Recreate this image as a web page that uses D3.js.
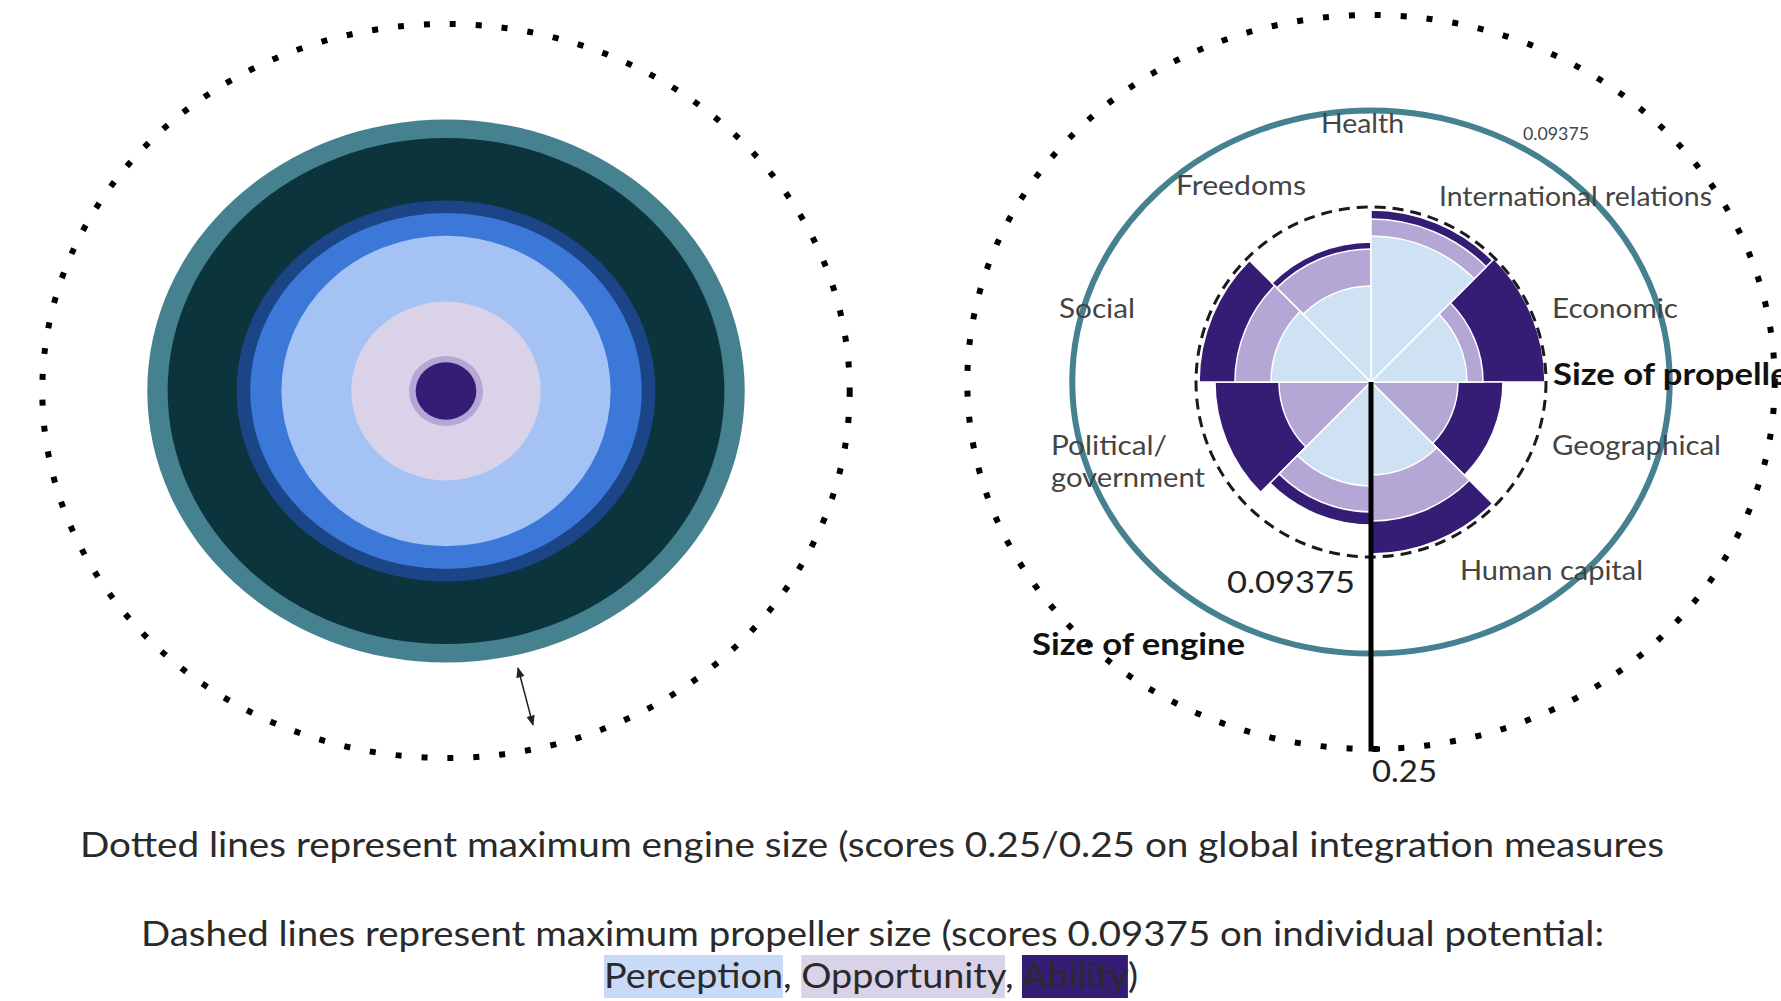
<!DOCTYPE html>
<html>
<head>
<meta charset="utf-8">
<script src="https://cdn.jsdelivr.net/npm/d3@7"></script>
<style>
  body { margin: 0; background: #fff; overflow: hidden; }
  svg { display: block; }
  text { font-family: Lato, "Open Sans", sans-serif; }
</style>
</head>
<body>
<svg id="chart"></svg>
<script>
// ---- data ----
const engineMax = 0.25;
const propMax = 0.09375;

// left "engine" picture: nested rings, outside in
const engineRingScores = [0.185, 0.1724, 0.1297, 0.1212, 0.1058, 0.0609, 0.0238, 0.0195];
const engineRingColors = ["#45818e", "#0c343d", "#1c4587", "#3c78d8", "#a4c2f4", "#d9d2e9", "#b4a7d6", "#351c75"];

// right "propeller": one 45 degree blade per category, clockwise from the top
const categories = ["Health", "International relations", "Economic", "Geographical",
  "Human capital", "Political/government", "Social", "Freedoms"];
const perception  = [0.0782, 0.0514, 0.0,    0.0498, 0.0557, 0.0,    0.0536, 0.0514];
const opportunity = [0.0873, 0.0600, 0.0466, 0.0745, 0.0696, 0.0493, 0.0729, 0.0713];
const ability     = [0.0921, 0.0932, 0.0707, 0.0921, 0.0766, 0.0836, 0.0921, 0.0750];
const engineScore = 0.185;

const line1 = "Dotted lines represent maximum engine size (scores 0.25/0.25 on global integration measures";
const line2 = "Dashed lines represent maximum propeller size (scores 0.09375 on individual potential:";
const legendNames = ["Perception", "Opportunity", "Ability"];

// ---- layout ----
const W = 1781, H = 1001;
const leftC = [446, 391], rightC = [1371, 382];
const stretch = 1.1; // the engine circles were squashed into ellipses on the slide

const svg = d3.select("#chart").attr("width", W).attr("height", H);

const defs = svg.append("defs");
defs.append("marker").attr("id", "head")
  .attr("viewBox", "0 0 10 10").attr("refX", 9).attr("refY", 5)
  .attr("markerWidth", 7).attr("markerHeight", 7).attr("orient", "auto-start-reverse")
  .append("path").attr("d", "M0,1 L10,5 L0,9 z").attr("fill", "#222");

const engineR = d3.scaleLinear().domain([0, engineMax]).range([0, 367]);
const propR = d3.scaleLinear().domain([0, propMax]).range([0, 175]);
const angle = d3.scaleBand().domain(categories).range([0, 2 * Math.PI]);

const drawDotted = (g) => g.append("ellipse")
  .attr("rx", engineR(engineMax) * stretch).attr("ry", engineR(engineMax))
  .attr("fill", "none").attr("stroke", "#000")
  .attr("stroke-width", 6).attr("stroke-dasharray", "6 20");

const addText = (g, x, y, str, size, width, opts = {}) => {
  const t = g.append("text")
    .attr("x", x).attr("y", y)
    .attr("font-size", size)
    .attr("font-weight", opts.bold ? 700 : 400)
    .attr("fill", opts.color || "#444")
    .text(str);
  if (width) t.attr("textLength", width).attr("lengthAdjust", "spacingAndGlyphs");
  return t;
};

// ---- left chart ----
const left = svg.append("g").attr("transform", `translate(${leftC[0]},${leftC[1]})`);
drawDotted(left);
left.selectAll(".ring").data(engineRingScores).join("ellipse")
  .attr("class", "ring")
  .attr("rx", d => engineR(d) * (d > 0.11 ? stretch : 1.06))
  .attr("ry", d => engineR(d))
  .attr("fill", (d, i) => engineRingColors[i]);

left.append("line")
  .attr("x1", 72).attr("y1", 277).attr("x2", 87).attr("y2", 334)
  .attr("stroke", "#222").attr("stroke-width", 1.5)
  .attr("marker-start", "url(#head)").attr("marker-end", "url(#head)");

// ---- right chart ----
const right = svg.append("g").attr("transform", `translate(${rightC[0]},${rightC[1]})`);
drawDotted(right);
right.append("ellipse")
  .attr("rx", engineR(engineScore) * stretch).attr("ry", engineR(engineScore))
  .attr("fill", "none").attr("stroke", "#45818e").attr("stroke-width", 6);

const arc = d3.arc().innerRadius(0);
const series = [
  { values: ability, color: "#351c75" },
  { values: opportunity, color: "#b4a7d6" },
  { values: perception, color: "#cfe2f3" }
];
series.forEach(s => {
  right.append("g").selectAll("path").data(categories).join("path")
    .attr("d", (c, i) => arc({
      outerRadius: propR(s.values[i]),
      startAngle: angle(c),
      endAngle: angle(c) + angle.bandwidth()
    }))
    .attr("fill", s.color)
    .attr("stroke", "#fff").attr("stroke-width", 1.5);
});

right.append("circle")
  .attr("r", propR(propMax))
  .attr("fill", "none").attr("stroke", "#1a1a1a")
  .attr("stroke-width", 3).attr("stroke-dasharray", "11 7");

// axis from the hub down to the maximum engine size
right.append("path")
  .attr("d", `M0,0 V${engineR(engineMax)} h9`)
  .attr("fill", "none").attr("stroke", "#000").attr("stroke-width", 5);

// category labels (offsets from the hub, as placed on the slide)
const labelPos = [[-50, -249, 83], [68, -176, 273], [181, -64, 126], [181, 73, 169],
  [89, 198, 183], [-320, 73, 116], [-312, -64, 76], [-195, -187, 130]];
categories.forEach((c, i) => {
  const [dx, dy, w] = labelPos[i];
  if (c.includes("/")) {
    const parts = c.split("/");
    addText(right, dx, dy, parts[0] + "/", 26, w);
    addText(right, dx, dy + 32, parts[1], 26, 154);
  } else {
    addText(right, dx, dy, c, 26, w);
  }
});

addText(right, 152, -242, String(propMax), 17, 66, { color: "#444" });
addText(right, -144, 211, String(propMax), 30, 128, { color: "#222" });
addText(right, 1, 400, String(engineMax), 31, 65, { color: "#222" });

const engineLbl = addText(right, -339, 273, "Size of engine", 30, null, { bold: true, color: "#111" });
const squeeze = 213 / engineLbl.node().getComputedTextLength();
engineLbl.attr("textLength", 213).attr("lengthAdjust", "spacingAndGlyphs");
const propLbl = addText(right, 182, 3, "Size of propeller", 30, null, { bold: true, color: "#111" });
propLbl.attr("textLength", propLbl.node().getComputedTextLength() * squeeze)
  .attr("lengthAdjust", "spacingAndGlyphs");

// ---- caption ----
addText(svg, 80, 857, line1, 34, 1584, { color: "#2a2a2a" });
addText(svg, 141, 946, line2, 34, 1463, { color: "#2a2a2a" });

const boxColors = ["#c9daf8", "#d9d2e9", "#351c75"];
const boxLayer = svg.append("g");
const l3 = svg.append("text").attr("x", 604).attr("y", 988)
  .attr("font-size", 34).attr("fill", "#2a2a2a")
  .attr("textLength", 534).attr("lengthAdjust", "spacingAndGlyphs");
const pieces = [];
legendNames.forEach((n, i) => {
  pieces.push({ s: n, box: i });
  pieces.push({ s: i < legendNames.length - 1 ? ", " : ")", box: -1 });
});
let idx = 0;
pieces.forEach(p => { p.start = idx; idx += p.s.length; l3.append("tspan").text(p.s); });
const node = l3.node();
pieces.filter(p => p.box >= 0).forEach(p => {
  const x0 = node.getStartPositionOfChar(p.start).x;
  const x1 = node.getEndPositionOfChar(p.start + p.s.length - 1).x;
  boxLayer.append("rect")
    .attr("x", x0).attr("y", 955).attr("width", x1 - x0).attr("height", 43)
    .attr("fill", boxColors[p.box]);
});
</script>
</body>
</html>
